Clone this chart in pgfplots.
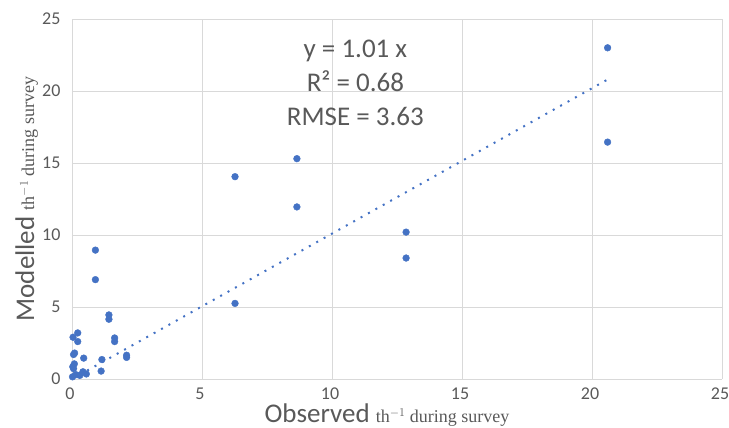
\documentclass[border=0pt]{standalone}
\usepackage{fontspec}
\setmainfont{Carlito}
\newfontfamily\serif{Liberation Serif}
\usepackage{pgfplots}
\pgfplotsset{compat=1.18}
\definecolor{dotblue}{RGB}{68,114,196}
\definecolor{txtgray}{RGB}{89,89,89}
\definecolor{gridgray}{RGB}{217,217,217}
\begin{document}
\begin{tikzpicture}
\begin{axis}[
    scale only axis,
    width=650bp,height=360bp,
    xmin=0,xmax=25,ymin=0,ymax=25,
    xtick={0,5,...,25},ytick={0,5,...,25},
    grid=major,
    major grid style={gridgray,line width=0.8pt},
    axis line style={draw=none},
    tick style={draw=none},
    /pgf/number format/assume math mode=true,
    ticklabel style={font=\fontsize{18bp}{21bp}\selectfont,text=txtgray},
    xticklabel style={yshift=-5bp,xshift=-2bp},
    yticklabel style={xshift=-8bp},
    clip=false,
]
\draw[gridgray,line width=0.8pt] (axis cs:0,0) -- (axis cs:25,0);
\addplot[dotblue,line width=2pt,dash pattern=on 2pt off 6.5pt] coordinates {(0.3,0.3) (20.7,20.9)};
\addplot[only marks,mark=*,mark size=3.4pt,mark options={draw=dotblue,fill=dotblue}] coordinates {
(20.6,23.0) (20.6,16.45) (12.85,10.2) (12.85,8.4) (8.65,15.3) (8.65,11.95)
(6.27,14.05) (6.27,5.25) (0.9,8.95) (0.9,6.9) (1.42,4.45) (1.42,4.15)
(1.64,2.85) (1.64,2.6) (2.1,1.65) (2.1,1.5) (1.15,1.35) (1.12,0.55)
(0.45,1.45) (0.22,3.2) (0.04,2.9) (0.22,2.6) (0.1,1.8) (0.06,1.7)
(0.03,0.85) (0.09,1.05) (0.06,0.72) (0.02,0.15) (0.15,0.3) (0.55,0.35)
(0.42,0.5) (0.3,0.25)
};
\node[text=txtgray,align=center,font=\fontsize{27bp}{34bp}\selectfont] at (axis cs:10.9,20.55)
  {y = 1.01 x\\R² = 0.68\\RMSE = 3.63};
\end{axis}
\node[text=txtgray,anchor=base] at (315bp,-43.5bp)
  {\fontsize{27bp}{29bp}\selectfont Observed {\serif\fontsize{18bp}{20bp}\selectfont th$^{-1}$ during survey}};
\node[text=txtgray,anchor=base,rotate=90] at (-38bp,180bp)
  {\fontsize{27bp}{29bp}\selectfont Modelled {\serif\fontsize{18bp}{20bp}\selectfont th$^{-1}$ during survey}};
\pgfresetboundingbox
\path[use as bounding box] (-72bp,-49bp) rectangle (657bp,379bp);
\end{tikzpicture}
\end{document}
